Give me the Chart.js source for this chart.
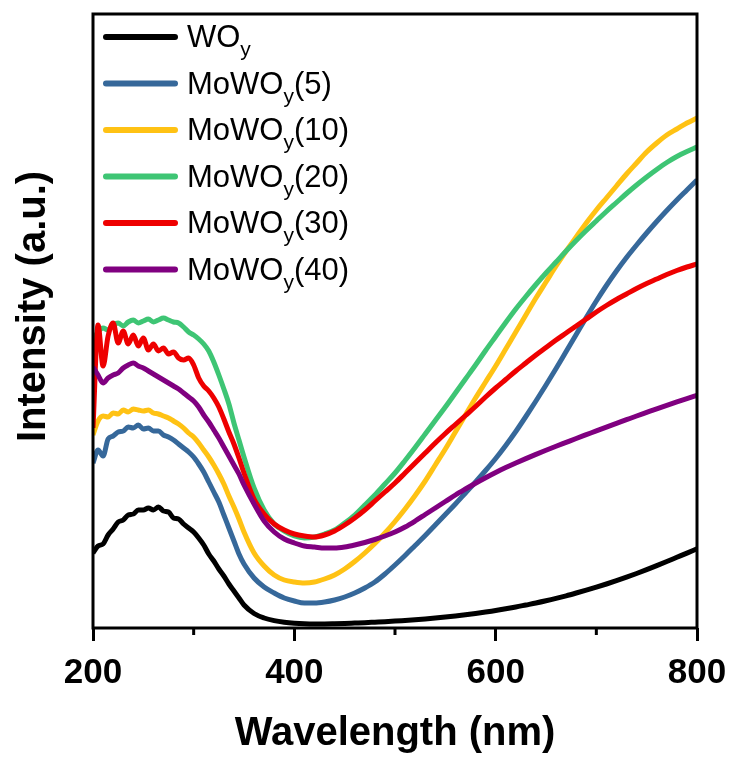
<!DOCTYPE html>
<html>
<head>
<meta charset="utf-8">
<script src="https://cdn.jsdelivr.net/npm/chart.js@4.4.1/dist/chart.umd.min.js"></script>
<style>
  html, body { margin: 0; padding: 0; background: #fff; }
  #wrap { width: 734px; height: 758px; position: relative; }
</style>
</head>
<body>
<div id="wrap"><canvas id="myChart"></canvas></div>
<script>
// wavelength grid (nm): 5 nm steps in the noisy UV part, 10 nm after
var wavelength = [200, 205, 210, 215, 220, 225, 230, 235, 240, 245, 250, 255, 260, 265, 270, 275, 280, 285, 290, 295,
    300, 305, 310, 315, 320, 325, 330, 335, 340, 345, 350,
    360, 370, 380, 390, 400, 410, 420, 430, 440, 450, 460, 470, 480, 490, 500, 510, 520, 530, 540, 550,
    560, 570, 580, 590, 600, 610, 620, 630, 640, 650, 660, 670, 680, 690, 700, 710, 720, 730, 740, 750,
    760, 770, 780, 790, 800];

// intensity (a.u.)
var woy = [75, 82, 84, 93, 99, 106, 108, 113, 114, 118, 118, 120, 118, 121, 117, 116, 110, 109, 104, 100,
    96, 90, 83, 74, 67, 59, 52, 44, 37, 30, 23,
    14.5, 10, 7.4, 5.8, 4.8, 4.2, 4.0, 4.0, 4.2, 4.5, 4.9, 5.3, 5.8, 6.3, 6.9, 7.6, 8.3, 9.1, 10, 11,
    12.1, 13.3, 14.6, 16, 17.5, 19.2, 21, 23, 25, 27.2, 29.6, 32.2, 35, 37.9, 40.9, 44, 47.3, 50.8, 54.5, 58.4,
    62.4, 66.5, 70.7, 74.9, 79.2];

var mowoy5 = [165, 178, 172, 189, 192, 196, 197, 201, 200, 203, 199, 200, 197, 197, 193, 191, 188, 184, 180, 176,
    171, 164, 156, 146, 136, 126, 113, 100, 87, 74, 64,
    50, 41, 35, 30, 27, 25, 25, 26, 28, 31, 35, 40, 46, 54, 63, 72.5, 82.5, 92.5, 103, 113.5,
    124, 135, 146, 157.5, 169.5, 182.5, 196.5, 211.5, 227, 243, 259.5, 276.5, 293.5, 310.5, 327, 342.5, 357, 370.5, 383, 395,
    406.5, 417.5, 428, 438, 448];

var mowoy10 = [193, 207, 212, 211, 215, 214, 218, 216, 219, 218, 217, 218, 215, 214, 212, 210, 207, 204, 200, 195,
    191, 185, 178, 171, 163, 154, 144, 132, 121, 109, 96,
    75, 62, 53, 48, 46, 45, 46, 49, 53, 59, 66.5, 75, 84.5, 95, 106.5, 119, 132.5, 147, 163, 179,
    196, 213, 230, 246, 262, 279, 296, 313, 330, 346, 362, 377, 391, 405, 418, 430, 442, 454, 465, 476,
    485, 493, 499, 505, 510];

var mowoy20 = [288, 296, 300, 298, 303, 305, 302, 306, 308, 305, 307, 309, 306, 308, 310, 308, 306, 305, 301, 296,
    293, 289, 284, 277, 266, 253, 239, 224, 205, 188, 171,
    140, 118, 104, 97, 92, 90, 91, 94, 98, 105, 113, 123, 133, 144, 155, 167.5, 180.5, 194, 207.5, 221,
    235, 249, 263, 277.5, 291.5, 305.5, 319, 331.5, 343.5, 355, 366, 377, 387.5, 397.5, 407, 416.5, 425.5, 434.5, 443, 451,
    458.5, 465.5, 471.5, 476.5, 481];

var mowoy30 = [200, 303, 262, 292, 305, 285, 297, 284, 293, 282, 290, 278, 284, 277, 280, 274, 276, 270, 268, 270,
    263, 250, 242, 237, 230, 221, 209, 196, 184, 170, 155,
    129, 114, 104, 98, 94, 92, 91, 93, 97, 103, 110, 118, 127, 136, 145, 155, 165, 175, 185, 194.5,
    203.5, 212.5, 221.5, 231, 240, 248.5, 257, 265, 273, 280.5, 288, 295, 302, 309, 316, 322.5, 328.5, 334, 339.5, 344.5,
    349, 353.5, 357.5, 361, 364];

var mowoy40 = [261, 253, 245, 250, 253, 255, 260, 263, 265, 262, 260, 257, 254, 251, 248, 245, 242, 239, 235, 231,
    227, 221, 213, 206, 198, 190, 181, 172, 163, 154, 143,
    124, 107, 96, 89, 85, 82, 81, 80, 80, 81, 83, 85.5, 88.5, 92, 96, 101, 107, 113.5, 120, 126.5,
    133, 139, 144.8, 150.3, 155.5, 160.4, 165, 169.4, 173.6, 177.7, 181.7, 185.6, 189.5, 193.3, 197.1, 200.9, 204.6, 208.3, 212, 215.6,
    219.2, 222.7, 226.1, 229.4, 232.6];

var seriesLabels = ['WO_y', 'MoWO_y(5)', 'MoWO_y(10)', 'MoWO_y(20)', 'MoWO_y(30)', 'MoWO_y(40)'];
var seriesColors = ['#000000', '#36689A', '#FFC214', '#3EC574', '#EE0000', '#800080'];
var majorTicks = [200, 400, 600, 800];
var minorTicks = [300, 500, 700];

var FONT = '"Liberation Sans", Arial, sans-serif';
var allSeries = [woy, mowoy5, mowoy10, mowoy20, mowoy30, mowoy40];

var datasets = allSeries.map(function (vals, i) {
    return {
        label: seriesLabels[i],
        data: wavelength.map(function (w, j) { return { x: w, y: vals[j] }; }),
        borderColor: seriesColors[i],
        backgroundColor: seriesColors[i],
        borderWidth: 5,
        pointRadius: 0,
        cubicInterpolationMode: 'monotone',
        order: allSeries.length - i
    };
});

// frame, minor ticks, legend with subscripts and the y title
var decorPlugin = {
    id: 'decor',
    afterDatasetsDraw: function (chart) {
        var ctx = chart.ctx;
        var a = chart.chartArea;
        var x = chart.scales.x;
        ctx.save();
        ctx.strokeStyle = '#000';
        ctx.lineWidth = 3;
        ctx.strokeRect(a.left, a.top, a.right - a.left, a.bottom - a.top);

        ctx.beginPath();
        minorTicks.forEach(function (v) {
            var px = x.getPixelForValue(v);
            ctx.moveTo(px, a.bottom);
            ctx.lineTo(px, a.bottom + 7);
        });
        ctx.stroke();

        // legend
        ctx.lineCap = 'round';
        ctx.textAlign = 'left';
        ctx.textBaseline = 'alphabetic';
        chart.data.datasets.forEach(function (ds, i) {
            var ly = a.top + 23 + i * 46.5;
            ctx.strokeStyle = ds.borderColor;
            ctx.lineWidth = 6;
            ctx.beginPath();
            ctx.moveTo(a.left + 13, ly);
            ctx.lineTo(a.left + 82, ly);
            ctx.stroke();

            var parts = ds.label.split('_y');
            var tx = a.left + 94;
            ctx.fillStyle = '#000';
            ctx.font = '31px ' + FONT;
            ctx.fillText(parts[0], tx, ly + 10);
            tx += ctx.measureText(parts[0]).width;
            ctx.font = '21px ' + FONT;
            ctx.fillText('y', tx, ly + 19);
            tx += ctx.measureText('y').width;
            ctx.font = '31px ' + FONT;
            ctx.fillText(parts[1], tx, ly + 10);
        });

        // y axis title
        ctx.translate(45, 442);
        ctx.rotate(-Math.PI / 2);
        ctx.font = 'bold 40px ' + FONT;
        ctx.fillStyle = '#000';
        ctx.fillText('Intensity (a.u.)', 0, 0);
        ctx.restore();
    }
};

var chartId = document.getElementById('myChart').getContext('2d');

var myChart = new Chart(chartId, {
    type: 'line',
    data: { datasets: datasets },
    options: {
        responsive: true,
        maintainAspectRatio: false,
        animation: false,
        devicePixelRatio: 1,
        events: [],
        layout: { padding: { left: 93, right: 37, top: 14, bottom: 0 } },
        plugins: {
            legend: { display: false },
            tooltip: { enabled: false }
        },
        scales: {
            x: {
                type: 'linear',
                min: 200,
                max: 800,
                border: { display: false },
                grid: {
                    drawOnChartArea: false,
                    drawTicks: true,
                    tickLength: 13,
                    tickWidth: 3,
                    tickColor: function (c) {
                        return majorTicks.indexOf(c.tick.value) >= 0 ? '#000' : 'rgba(0,0,0,0)';
                    }
                },
                ticks: {
                    stepSize: 100,
                    autoSkip: false,
                    maxRotation: 0,
                    padding: 11,
                    color: '#000',
                    font: { family: FONT, size: 35, weight: 'bold' },
                    callback: function (v) { return majorTicks.indexOf(v) >= 0 ? v : ''; }
                },
                title: {
                    display: true,
                    text: 'Wavelength (nm)',
                    color: '#000',
                    font: { family: FONT, size: 40, weight: 'bold' },
                    padding: { top: 0, bottom: 0 }
                },
                afterFit: function (scale) {
                    scale.height = 130;
                    scale.paddingLeft = 0;
                    scale.paddingRight = 0;
                }
            },
            y: {
                display: false,
                min: 0,
                max: 614
            }
        }
    },
    plugins: [decorPlugin]
});
</script>
</body>
</html>
